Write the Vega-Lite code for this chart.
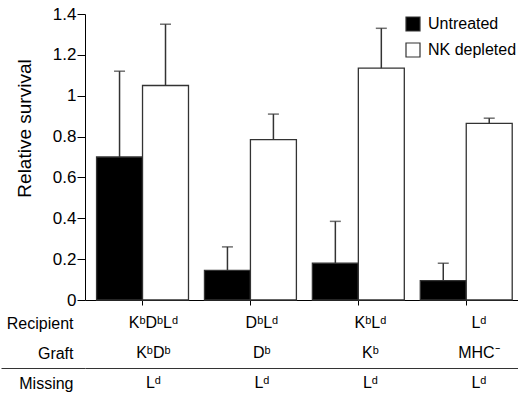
{
  "$schema": "https://vega.github.io/schema/vega-lite/v6.json",
  "padding": {"left": 0, "top": 5, "right": 0, "bottom": 0},
  "config": {
    "font": "Liberation Sans",
    "view": {"stroke": null},
    "axis": {
      "labelColor": "black", "titleColor": "black", "domainColor": "black", "tickColor": "black",
      "labelFont": "Liberation Sans", "titleFont": "Liberation Sans", "titleFontWeight": "normal",
      "labelFontSize": 16, "titleFontSize": 16, "grid": false, "domainWidth": 1, "tickWidth": 1
    },
    "concat": {"spacing": -8}
  },
  "datasets": {
    "bars": [
      {"group": "KᵇDᵇLᵈ", "treatment": "Untreated", "survival": 0.70, "upper": 1.12},
      {"group": "KᵇDᵇLᵈ", "treatment": "NK depleted", "survival": 1.05, "upper": 1.35},
      {"group": "DᵇLᵈ", "treatment": "Untreated", "survival": 0.145, "upper": 0.26},
      {"group": "DᵇLᵈ", "treatment": "NK depleted", "survival": 0.785, "upper": 0.91},
      {"group": "KᵇLᵈ", "treatment": "Untreated", "survival": 0.18, "upper": 0.385},
      {"group": "KᵇLᵈ", "treatment": "NK depleted", "survival": 1.135, "upper": 1.33},
      {"group": "Lᵈ", "treatment": "Untreated", "survival": 0.095, "upper": 0.18},
      {"group": "Lᵈ", "treatment": "NK depleted", "survival": 0.865, "upper": 0.89}
    ],
    "table": [
      {"group": "KᵇDᵇLᵈ", "row": "Recipient", "label": "KᵇDᵇLᵈ"},
      {"group": "DᵇLᵈ", "row": "Recipient", "label": "DᵇLᵈ"},
      {"group": "KᵇLᵈ", "row": "Recipient", "label": "KᵇLᵈ"},
      {"group": "Lᵈ", "row": "Recipient", "label": "Lᵈ"},
      {"group": "KᵇDᵇLᵈ", "row": "Graft", "label": "KᵇDᵇ"},
      {"group": "DᵇLᵈ", "row": "Graft", "label": "Dᵇ"},
      {"group": "KᵇLᵈ", "row": "Graft", "label": "Kᵇ"},
      {"group": "Lᵈ", "row": "Graft", "label": "MHC⁻"},
      {"group": "KᵇDᵇLᵈ", "row": "Missing", "label": "Lᵈ"},
      {"group": "DᵇLᵈ", "row": "Missing", "label": "Lᵈ"},
      {"group": "KᵇLᵈ", "row": "Missing", "label": "Lᵈ"},
      {"group": "Lᵈ", "row": "Missing", "label": "Lᵈ"}
    ]
  },
  "vconcat": [
    {
      "width": 434,
      "height": 286,
      "data": {"name": "bars"},
      "encoding": {
        "x": {
          "field": "group", "type": "nominal",
          "scale": {"domain": ["KᵇDᵇLᵈ", "DᵇLᵈ", "KᵇLᵈ", "Lᵈ"], "paddingInner": 0.148, "paddingOuter": 0.085, "align": 0.63},
          "axis": {"title": null, "labels": false, "tickSize": 5}
        },
        "xOffset": {
          "field": "treatment", "type": "nominal",
          "scale": {"domain": ["Untreated", "NK depleted"], "paddingInner": 0, "paddingOuter": 0}
        }
      },
      "layer": [
        {
          "mark": {"type": "bar", "stroke": "#333", "strokeWidth": 1.3},
          "encoding": {
            "y": {
              "field": "survival", "type": "quantitative",
              "scale": {"domain": [0, 1.4], "nice": false},
              "axis": {
                "title": "Relative survival",
                "titleFontSize": 19,
                "titleY": 114,
                "labelFontSize": 17,
                "values": [0, 0.1, 0.2, 0.3, 0.4, 0.5, 0.6, 0.7, 0.8, 0.9, 1.0, 1.1, 1.2, 1.3, 1.4],
                "format": "~g",
                "labelExpr": "round(datum.value*10) % 2 === 0 ? datum.label : ''",
                "tickSize": {"condition": {"test": "round(datum.value*10) % 2 === 0", "value": 8}, "value": 4},
                "labelPadding": 1,
                "titlePadding": 18
              }
            },
            "fill": {
              "field": "treatment", "type": "nominal",
              "scale": {"domain": ["Untreated", "NK depleted"], "range": ["black", "white"]},
              "legend": {
                "title": null, "orient": "top-right", "offset": 2, "padding": 0,
                "symbolType": "square", "symbolSize": 196, "symbolStrokeColor": "#333", "symbolStrokeWidth": 1.2,
                "labelFontSize": 16, "labelFont": "Liberation Sans", "labelColor": "black",
                "rowPadding": 6, "labelOffset": 7
              }
            }
          }
        },
        {
          "mark": {"type": "rule", "color": "#333", "strokeWidth": 1.5},
          "encoding": {
            "y": {"field": "survival", "type": "quantitative"},
            "y2": {"field": "upper"}
          }
        },
        {
          "mark": {"type": "tick", "color": "#333", "size": 11, "thickness": 1.5, "orient": "horizontal"},
          "encoding": {
            "y": {"field": "upper", "type": "quantitative"}
          }
        }
      ]
    },
    {
      "width": 434,
      "height": 90,
      "data": {"name": "table"},
      "mark": {"type": "text", "fontSize": 16, "font": "Liberation Sans", "color": "black", "baseline": "middle"},
      "encoding": {
        "x": {
          "field": "group", "type": "nominal",
          "scale": {"domain": ["KᵇDᵇLᵈ", "DᵇLᵈ", "KᵇLᵈ", "Lᵈ"], "paddingInner": 0.148, "paddingOuter": 0.085, "align": 0.63},
          "axis": null
        },
        "y": {
          "field": "row", "type": "nominal",
          "scale": {"domain": ["Recipient", "Graft", "Missing"], "paddingInner": 0, "paddingOuter": 0},
          "axis": {
            "title": null, "domain": false, "tickBand": "extent", "tickSize": 84, "tickColor": "#333",
            "tickOpacity": {"condition": {"test": "datum.value === 'Graft'", "value": 1}, "value": 0},
            "grid": true, "gridColor": "#333", "gridWidth": 1,
            "gridOpacity": {"condition": {"test": "datum.value === 'Graft'", "value": 1}, "value": 0},
            "labelPadding": -72
          }
        },
        "text": {"field": "label"}
      }
    }
  ],
  "resolve": {"scale": {"x": "independent", "y": "independent"}}
}
